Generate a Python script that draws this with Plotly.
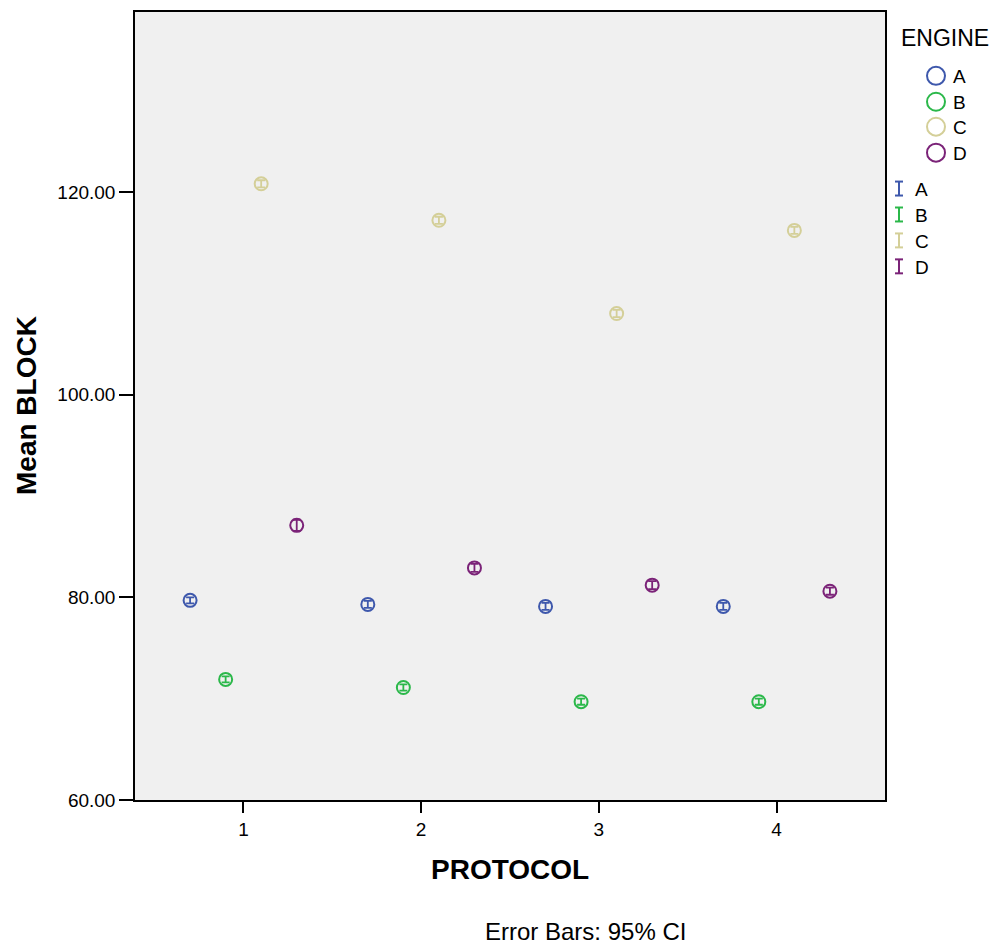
import plotly.graph_objects as go

protocols = [1, 2, 3, 4]
engines = ["A", "B", "C", "D"]
means = {
    "A": [79.7, 79.3, 79.1, 79.1],
    "B": [71.9, 71.1, 69.7, 69.7],
    "C": [120.8, 117.2, 108.0, 116.2],
    "D": [87.1, 82.9, 81.2, 80.6],
}
ci_half = {
    "A": [0.3, 0.35, 0.35, 0.35],
    "B": [0.3, 0.3, 0.3, 0.3],
    "C": [0.35, 0.35, 0.35, 0.35],
    "D": [0.55, 0.4, 0.4, 0.35],
}
colors = {"A": "#3e58ac", "B": "#2bb84a", "C": "#d4cf98", "D": "#7b2378"}
offsets = {"A": -0.3, "B": -0.1, "C": 0.1, "D": 0.3}

FONT = "Liberation Sans, Arial, sans-serif"

fig = go.Figure()
for e in engines:
    fig.add_trace(go.Scatter(
        x=[p + offsets[e] for p in protocols],
        y=means[e],
        mode="markers",
        name=e,
        showlegend=False,
        marker=dict(symbol="circle-open", size=13, color=colors[e], line=dict(width=2, color=colors[e])),
        error_y=dict(type="data", array=ci_half[e], visible=True, color=colors[e], thickness=1.8, width=4),
    ))

L, R, T, B = 135, 885, 10, 800
W = R - L
H = B - T


def px(x):
    return (x - L) / W


def py(y):
    return (B - y) / H


shapes = []
annotations = []

annotations.append(dict(x=px(945), y=py(36), xref="paper", yref="paper", text="ENGINE",
                        showarrow=False, xanchor="center", yanchor="middle",
                        font=dict(family=FONT, size=23, color="black")))
leg_y = [74, 100, 125, 151]
for e, yy in zip(engines, leg_y):
    shapes.append(dict(type="circle", xref="paper", yref="paper", xsizemode="pixel", ysizemode="pixel",
                       xanchor=px(936), yanchor=py(yy), x0=-9, x1=9, y0=-9, y1=9,
                       line=dict(color=colors[e], width=2)))
    annotations.append(dict(x=px(951), y=py(yy + 1), xref="paper", yref="paper", text=e,
                            showarrow=False, xanchor="left", yanchor="middle",
                            font=dict(family=FONT, size=19, color="black")))
leg2_y = [187, 213, 239, 265]
for e, yy in zip(engines, leg2_y):
    xc = px(899)
    top, bot = py(yy - 7), py(yy + 7)
    shapes.append(dict(type="line", xref="paper", yref="paper", x0=xc, x1=xc, y0=bot, y1=top,
                       line=dict(color=colors[e], width=2)))
    for yv in (top, bot):
        shapes.append(dict(type="line", xref="paper", yref="paper", x0=px(895), x1=px(903), y0=yv, y1=yv,
                           line=dict(color=colors[e], width=2)))
    annotations.append(dict(x=px(913), y=py(yy + 1), xref="paper", yref="paper", text=e,
                            showarrow=False, xanchor="left", yanchor="middle",
                            font=dict(family=FONT, size=19, color="black")))

annotations.append(dict(x=px(585), y=py(932), xref="paper", yref="paper", text="Error Bars: 95% CI",
                        showarrow=False, xanchor="center", yanchor="middle",
                        font=dict(family=FONT, size=24, color="black")))
annotations.append(dict(x=px(510), y=py(870), xref="paper", yref="paper", text="<b>PROTOCOL</b>",
                        showarrow=False, xanchor="center", yanchor="middle",
                        font=dict(family=FONT, size=28, color="black")))
annotations.append(dict(x=px(26), y=py(405), xref="paper", yref="paper", text="<b>Mean BLOCK</b>",
                        showarrow=False, xanchor="center", yanchor="middle", textangle=-90,
                        font=dict(family=FONT, size=28, color="black")))

fig.update_layout(
    width=999, height=948,
    margin=dict(l=L, r=999 - R, t=T, b=948 - B),
    paper_bgcolor="white",
    plot_bgcolor="#f0f0f0",
    showlegend=False,
    shapes=shapes,
    annotations=annotations,
    font=dict(family=FONT, color="black"),
)
fig.update_xaxes(
    range=[0.39, 4.61], tickvals=protocols, ticktext=[str(p) for p in protocols],
    ticks="outside", ticklen=11, tickwidth=1.5, tickcolor="black",
    showline=True, linecolor="black", linewidth=1.5, mirror=True,
    showgrid=False, zeroline=False,
    tickfont=dict(family=FONT, size=19),
)
fig.update_yaxes(
    range=[60, 137.75], tickvals=[60, 80, 100, 120], ticktext=["60.00", "80.00", "100.00", "120.00"],
    ticks="outside", ticklen=14, tickwidth=1.5, tickcolor="black",
    showline=True, linecolor="black", linewidth=1.5, mirror=True,
    showgrid=False, zeroline=False,
    tickfont=dict(family=FONT, size=19),
)

fig.write_html("out.html")
